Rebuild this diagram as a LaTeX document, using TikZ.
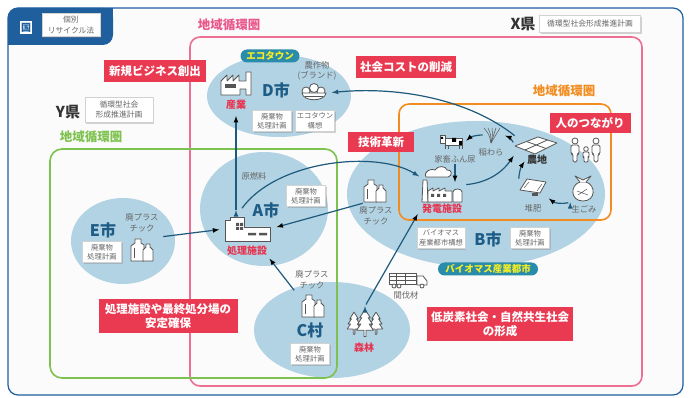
\documentclass[tikz,border=0pt]{standalone}
\usepackage{fontspec}
\setmainfont{Noto Sans CJK JP}
\usetikzlibrary{arrows,shapes,shadows,positioning}

\definecolor{kuni}{HTML}{1F5F9E}
\definecolor{pinkline}{HTML}{EE6F93}
\definecolor{pinktext}{HTML}{E9578B}
\definecolor{greenline}{HTML}{7DC24E}
\definecolor{orangeline}{HTML}{F38C1F}
\definecolor{citybg}{HTML}{B2D3E3}
\definecolor{apred}{HTML}{EA3A52}
\definecolor{facred}{HTML}{E8334F}
\definecolor{cityblue}{HTML}{1D5C86}
\definecolor{flowcol}{HTML}{1F5A7C}
\definecolor{pillbg}{HTML}{2A8CAB}
\definecolor{pilltext}{HTML}{F7EE22}
\definecolor{greytext}{HTML}{666666}
\definecolor{prefgray}{HTML}{333333}
\definecolor{iconline}{HTML}{555555}
\definecolor{panel}{HTML}{FBFBFB}

\newcommand{\haiki}{廃棄物\\処理計画}
\newcommand{\haipura}{廃プラス\\チック}
\newcommand{\chiiki}{地域循環圏}

\tikzset{
  icon/.style={draw=iconline, fill=white, line width=0.8pt, line join=round},
  iconnode/.style={inner sep=0pt},
  city/.style={ellipse, fill=citybg, inner sep=0pt},
  memo/.style={draw=gray!35, fill=white, text=greytext, align=center,
    drop shadow={opacity=0.35, shadow xshift=1.2pt, shadow yshift=-1.2pt},
    font=\fontsize{7.3}{9.5}\selectfont, inner sep=1.5pt,
    minimum width=39pt, minimum height=21pt},
  appeal/.style={fill=apred, text=white, align=center,
    font=\bfseries\fontsize{11.5}{14}\selectfont, inner xsep=4pt, inner ysep=3pt,
    minimum height=22pt},
  smalltext/.style={text=greytext, align=center, font=\fontsize{8.3}{10.5}\selectfont, inner sep=1pt},
  cityname/.style={text=cityblue, font=\bfseries\fontsize{16}{16}\selectfont, inner sep=1pt},
  redlabel/.style={text=facred, font=\bfseries\fontsize{10}{10}\selectfont, inner sep=1pt},
  pill/.style={fill=pillbg, text=pilltext, rounded corners=6.5pt, inner sep=1pt,
    font=\bfseries\fontsize{9.5}{10}\selectfont, minimum height=13pt},
  region/.style={font=\bfseries\fontsize{12.5}{14}\selectfont, inner sep=1pt},
  pref/.style={text=prefgray, font=\bfseries\fontsize{15}{16}\selectfont, inner sep=1pt},
  flow/.style={->, draw=flowcol, line width=1.2pt},
  % icons
  factory/.pic={
    \draw[icon] (-16,11) -- (-16,-3) -- (-10,-9) -- (-10,-3) -- (-4,-9) -- (-4,-3) -- (2,-9)
      -- (2,-3) -- (9,-3) -- (9,-12) -- (14,-12) -- (14,11) -- (9,11) -- (9,5) -- (3,5) -- (3,11) -- cycle;
    \fill[iconline] (-12,0) rectangle (-1,4);
  },
  works/.pic={
    \draw[icon] (-22,12) -- (-22,-9) -- (-17,-9) -- (-17,-12) -- (-3,-12) -- (-3,-2) -- (23,-2) -- (23,12) -- cycle;
    \fill[iconline] (-11,-6) rectangle (-8,-3) (-7,-6) rectangle (-4,-3) (-11,-2) rectangle (-8,1) (-7,-2) rectangle (-4,1);
    \fill[iconline] (1,4) rectangle (9,6.5) (12,4) rectangle (20,6.5);
  },
  powerplant/.pic={
    \draw[icon] (-16,-8) .. controls (-19,-14) and (-10,-17) .. (-7,-15) .. controls (-4,-20) and (4,-19) .. (5,-15)
      .. controls (10,-16) and (11,-9) .. (6,-8) -- cycle;
    \draw[icon] (-20,17) -- (-19,-5) -- (-15,-5) -- (-14,17) -- cycle;
    \draw[icon] (-14,17) -- (-14,6) -- (-9,3) -- (-9,6) -- (-3,3) -- (-3,6) -- (3,3) -- (3,6) -- (10,6) -- (10,17) -- cycle;
    \fill[iconline] (-11,9) rectangle (-8,12) (-5,9) rectangle (-2,12) (1,9) rectangle (4,12);
    \draw[icon] (11,17) -- (11,7) .. controls (11,3) and (20,3) .. (20,7) -- (20,17) -- cycle;
  },
  bottles/.pic={
    \draw[icon] (-11,11) -- (-11,-4) -- (-7,-7) -- (-7,-11) -- (-1,-11) -- (-1,-7) -- (2,-5) -- (2,11) -- cycle;
    \draw[icon] (-8,-2) -- (-8,8);
    \draw[icon] (1,11) -- (1,0) -- (4,-3) -- (4,-6) -- (8,-6) -- (8,-3) -- (11,0) -- (11,11) -- cycle;
  },
  cow/.pic={
    \draw[icon] (-7,3) -- (-7,7) (-4,3) -- (-4,7) (7,3) -- (7,7) (10,3) -- (10,7);
    \draw[icon] (-7,-4) rectangle (10,3);
    \draw[icon] (-12,-7) -- (-7,-7) -- (-7,1) -- (-12,1) -- cycle;
    \fill[black] (0,-4) rectangle (4,0) (7,-1) rectangle (10,3) (-11,-5) rectangle (-9,-3);
  },
  straw/.pic={
    \foreach \dx in {-9,-5,-1,3,7}
      \draw[iconline, line width=0.5pt] (-2,8) .. controls (\dx*0.4,0) .. (\dx,-7);
  },
  field/.pic={
    \draw[icon] (-21,1) -- (2,-8) -- (21,-2) -- (-1,9) -- cycle;
    \draw[iconline, line width=0.8pt] (-9.5,-3.5) -- (10,3.5) (11.5,-5) -- (-11,5);
  },
  compost/.pic={
    \draw[icon] (-13,2) -- (-6,-9) -- (13,-6) -- (7,5) -- cycle;
    \draw[iconline, line width=0.5pt] (-9,0) -- (-4,-6) (4,3) -- (9,-4);
    \fill[iconline] (-1,5) rectangle (5,8);
  },
  bag/.pic={
    \draw[icon] (-3,-7) .. controls (-13,-4) and (-13,12) .. (0,12) .. controls (13,12) and (13,-4) .. (3,-7) -- cycle;
    \draw[icon] (-3,-7) -- (-8,-13) -- (0,-9) -- (8,-13) -- (3,-7);
    \draw[iconline, line width=0.5pt] (-6,2) -- (5,6) (-5,6) -- (4,0);
  },
  family/.pic={
    \foreach \x in {-11,10} {
      \draw[icon] (\x,-9) circle (3);
      \draw[icon, rounded corners=1.5pt] (\x-4,4) -- (\x-4,-5) -- (\x+4,-5) -- (\x+4,4) -- (\x+2,4)
        -- (\x+2,12) -- (\x-2,12) -- (\x-2,4) -- cycle;
    }
    \draw[icon] (0,-1) circle (2.3);
    \draw[icon, rounded corners=1pt] (-3,7) -- (-3,2) -- (3,2) -- (3,7) -- (2,7) -- (2,12) -- (-2,12) -- (-2,7) -- cycle;
  },
  trees/.pic={
    \foreach \x/\s in {-11/0.85, 11/0.85, 0/1.05}
      \draw[icon, shift={(\x,2)}, scale=\s] (0,-14) -- (-5,-6) -- (-3,-6) -- (-7,0) -- (-4,0) -- (-8,6)
        -- (-1,6) -- (-1,12) -- (1,12) -- (1,6) -- (8,6) -- (4,0) -- (7,0) -- (3,-6) -- (5,-6) -- cycle;
  },
  truck/.pic={
    \draw[icon] (-19,-7) rectangle (8,4);
    \draw[iconline, line width=0.5pt] (-19,-3.5) -- (8,-3.5) (-19,0) -- (8,0) (-12,-7) -- (-12,4) (-3,-7) -- (-3,4);
    \draw[icon] (9,5) -- (9,-4) -- (15,-4) -- (19,1) -- (19,5) -- cycle;
    \draw[icon] (-14,6) circle (2) (-9,6) circle (2) (14,6) circle (2);
  },
  bowl/.pic={
    \draw[icon] (-8,-2) circle (4) (0,-5) circle (4.5) (7,-2) circle (4);
    \draw[icon] (-12,0) .. controls (-11,9) and (11,9) .. (12,0) -- cycle;
    \draw[iconline, line width=0.4pt] (-9,3) -- (9,3);
  }
}

\begin{document}
\begin{tikzpicture}[x=1pt,y=-1pt,>=latex,semithick]
  \useasboundingbox (0,0) rectangle (689,398);
  \fill[white] (0,0) rectangle (689,398);

  % national frame with its tab
  \draw[kuni, line width=1.2pt, fill=panel, rounded corners=10pt] (8,8) rectangle (683,395);
  \fill[kuni, rounded corners=10pt] (8,8) rectangle (113,45);
  \fill[kuni] (100,8) rectangle (113,20);
  \fill[kuni] (8,30) rectangle (20,45);

  % cities
  \node[city, minimum width=144pt, minimum height=82pt]  (ellD) at (279,96)  {};
  \node[city, minimum width=128pt, minimum height=114pt] (ellA) at (264,209) {};
  \node[city, minimum width=104pt, minimum height=86pt]  (ellE) at (123,241) {};
  \node[city, minimum width=156pt, minimum height=96pt]  (ellC) at (332,330) {};
  \node[city, minimum width=258pt, minimum height=146pt] (ellB) at (476,194) {};

  % regional circles
  \draw[pinkline, line width=1.6pt, rounded corners=10pt] (190,37) rectangle (642,386);
  \draw[greenline, line width=1.6pt, rounded corners=12pt] (50,149) rectangle (337,378);
  \draw[orangeline, line width=1.6pt, rounded corners=10pt] (399,104) rectangle (611,220);

  \node[region, text=pinktext]   (titPink)   at (229,25)  {\chiiki};
  \node[region, text=greenline]  (titGreen)  at (91,137)  {\chiiki};
  \node[region, text=orangeline] (titOrange) at (564,91)  {\chiiki};

  \node[fill=white, text=kuni, font=\bfseries\fontsize{10}{10}\selectfont, inner sep=0.5pt,
        minimum width=12pt, minimum height=13pt] (kokuMark) at (26,28) {国};
  \node[memo, minimum width=58pt, minimum height=23pt, font=\fontsize{7.8}{10.5}\selectfont] (lawBox) at (71,25) {個別\\リサイクル法};

  \node[pref] (prefX) at (523,24) {X県};
  \node[memo, minimum width=101pt, minimum height=17pt, font=\fontsize{7.8}{9.5}\selectfont] (planX) at (590,24) {循環型社会形成推進計画};
  \node[pref] (prefY) at (68,112) {Y県};
  \node[memo, minimum width=68pt, minimum height=25pt, font=\fontsize{7.8}{10}\selectfont] (planY) at (119,110) {循環型社会\\形成推進計画};

  % effects
  \node[appeal, minimum width=102pt] (newBiz)    at (155,71)  {新規ビジネス創出};
  \node[appeal, minimum width=98pt]  (costCut)   at (406,67)  {社会コストの削減};
  \node[appeal, minimum width=66pt, minimum height=20pt] (techInno) at (381,142) {技術革新};
  \node[appeal, minimum width=81pt, minimum height=20pt] (bonds)    at (590,123) {人のつながり};
  \node[appeal, minimum width=139pt, minimum height=34pt] (stable)    at (168,316) {処理施設や最終処分場の\\安定確保};
  \node[appeal, minimum width=145pt, minimum height=34pt] (lowCarbon) at (500,324) {低炭素社会・自然共生社会\\の形成};

  % D city
  \node[pill, minimum width=59pt] (ecoTown) at (270,56) {エコタウン};
  \node[iconnode, minimum width=33pt, minimum height=23pt] (facD) at (237,84) {};
  \pic at (facD) {factory};
  \node[redlabel] (sangyo) at (236,105) {産業};
  \node[cityname] (cityD) at (276,90) {D市};
  \node[smalltext] (brand) at (317,71) {農作物\\(ブランド)};
  \node[iconnode, minimum width=25pt, minimum height=20pt] (bowlD) at (314,93) {};
  \pic at (bowlD) {bowl};
  \node[memo] (planD1) at (272,121) {\haiki};
  \node[memo] (planD2) at (315,121) {エコタウン\\構想};

  % A city
  \node[smalltext] (genNen) at (254,176) {原燃料};
  \node[memo] (planA) at (306,196) {\haiki};
  \node[cityname] (cityA) at (266,210) {A市};
  \node[iconnode, minimum width=45pt, minimum height=25pt] (bldA) at (247,229) {};
  \pic at (bldA) {works};
  \node[redlabel] (shori) at (247,251) {処理施設};

  % E city
  \node[cityname] (cityE) at (103,230) {E市};
  \node[memo] (planE) at (102,252) {\haiki};
  \node[smalltext] (plaE) at (142,223) {\haipura};
  \node[iconnode, minimum width=24pt, minimum height=24pt] (botE) at (142,250) {};
  \pic at (botE) {bottles};

  % C village and forest
  \node[smalltext] (plaC) at (312,280) {\haipura};
  \node[iconnode, minimum width=24pt, minimum height=24pt] (botC) at (313,306) {};
  \pic at (botC) {bottles};
  \node[cityname] (cityC) at (310,330) {C村};
  \node[memo] (planC) at (310,354) {\haiki};
  \node[iconnode, minimum width=40pt, minimum height=31pt] (forest) at (365,322) {};
  \pic at (forest) {trees};
  \node[redlabel] (shinrin) at (364,348) {森林};
  \node[iconnode, minimum width=38pt, minimum height=15pt] (truckB) at (408,280) {};
  \pic at (truckB) {truck};
  \node[smalltext] (kanbatsu) at (406,295) {間伐材};

  % B city
  \node[iconnode, minimum width=24pt, minimum height=24pt] (botB) at (375,191) {};
  \pic at (botB) {bottles};
  \node[smalltext] (plaB) at (376,216) {\haipura};
  \node[iconnode, minimum width=40pt, minimum height=35pt] (plant) at (442,185) {};
  \pic at (plant) {powerplant};
  \node[redlabel] (hatsuden) at (442,209) {発電施設};
  \node[iconnode, minimum width=25pt, minimum height=15pt] (cowB) at (452,142) {};
  \pic at (cowB) {cow};
  \node[smalltext] (funnyo) at (455,159) {家畜ふん尿};
  \node[iconnode, minimum width=20pt, minimum height=15pt] (strawB) at (493,135) {};
  \pic at (strawB) {straw};
  \node[smalltext] (inawara) at (491,152) {稲わら};
  \node[iconnode, minimum width=42pt, minimum height=18pt] (fieldB) at (536,145) {};
  \pic at (fieldB) {field};
  \node[text=prefgray, font=\bfseries\fontsize{10}{10}\selectfont, inner sep=1pt] (nouchi) at (537,160) {農地};
  \node[iconnode, minimum width=28pt, minimum height=18pt] (compostB) at (533,188) {};
  \pic at (compostB) {compost};
  \node[smalltext] (taihi) at (533,208) {堆肥};
  \node[iconnode, minimum width=25pt, minimum height=26pt] (bagB) at (583,189) {};
  \pic at (bagB) {bag};
  \node[smalltext] (namagomi) at (584,209) {生ごみ};
  \node[iconnode, minimum width=33pt, minimum height=25pt] (familyB) at (586,150) {};
  \pic at (familyB) {family};
  \node[memo, minimum width=48pt] (bioPlan) at (441,238) {バイオマス\\産業都市構想};
  \node[cityname] (cityB) at (488,239) {B市};
  \node[memo] (planB) at (530,238) {\haiki};
  \node[pill, minimum width=100pt] (bioCity) at (488,269) {バイオマス産業都市};

  % flows between the cities
  \path[flow] ([yshift=6pt]sangyo |- bldA.north) edge [shorten >=5pt] (sangyo.south);
  \draw[flow, shorten >=3pt] ([xshift=-5pt,yshift=8pt]bldA.north) .. controls +(35,-48) and +(-45,-28) .. ([yshift=7pt]plant.west);
  \path[flow] (botB.south west) edge [shorten >=7pt] (bldA.east)
              (botE.north east) edge [shorten <=9pt, shorten >=5pt] (bldA.west)
              (plaC.south west) edge [shorten >=2pt] (shori.south east)
              (forest.north)    edge [shorten <=2pt, shorten >=6pt] (hatsuden.west);
  \draw[flow, shorten >=5pt] (fieldB.north west) .. controls (470,100) and (400,86) .. (bowlD.east);

  % biomass loop
  \path[flow] (plant.east)       edge [bend right=25, shorten <=4pt, shorten >=2pt] (fieldB.south west)
              (fieldB.west)      edge [bend right=20, shorten <=3pt, shorten >=2pt] (strawB.east)
              (strawB.west)      edge [bend right=20, shorten >=2pt] (cowB.east)
              (funnyo.south)     edge [shorten >=3pt] (funnyo.south |- plant.east)
              (compostB.north west) edge [bend left=15, shorten >=2pt] (nouchi.west)
              (bagB.south west)  edge [bend left=25, shorten <=2pt, shorten >=2pt] (compostB.south east);
\end{tikzpicture}
\end{document}
